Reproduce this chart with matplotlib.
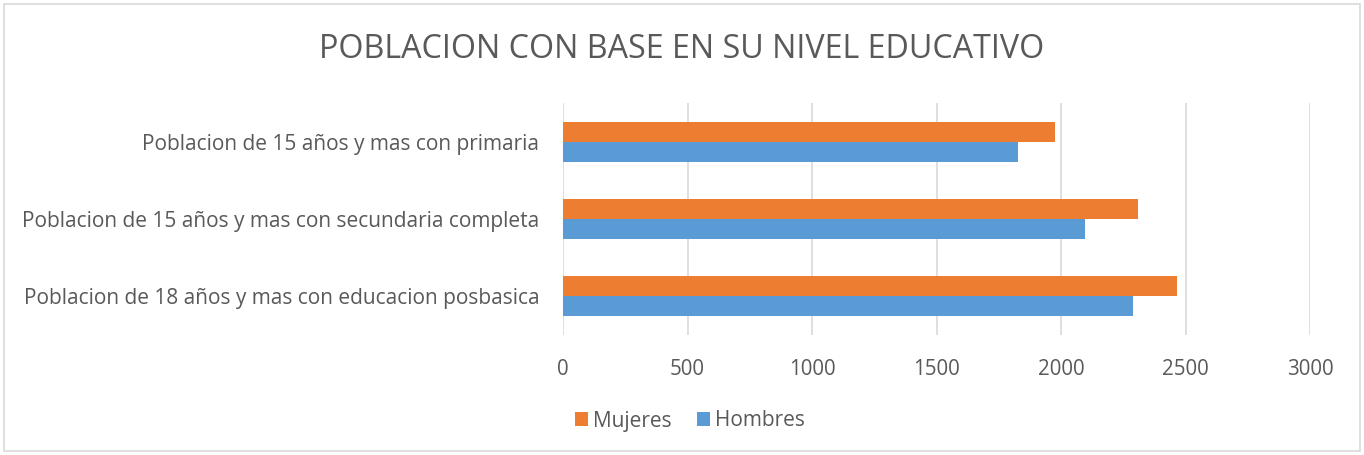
import matplotlib
matplotlib.use("Agg")
import matplotlib.pyplot as plt
import numpy as np
from matplotlib.patches import Rectangle

categories = [
    "Poblacion de 15 años y mas con primaria",
    "Poblacion de 15 años y mas con secundaria completa",
    "Poblacion de 18 años y mas con educacion posbasica",
]
mujeres = [1975, 2310, 2465]
hombres = [1827, 2097, 2288]
xticks = [0, 500, 1000, 1500, 2000, 2500, 3000]

ORANGE = "#ED7D31"
BLUE = "#5B9BD5"
TEXT = "#595959"
FONT = ["Open Sans", "DejaVu Sans"]

fig = plt.figure(figsize=(13.64, 4.55), dpi=100)
fig.patch.set_facecolor("white")
fig.patches.append(Rectangle((4 / 1364, 4 / 455), 1 - 8 / 1364, 1 - 8 / 455,
                             transform=fig.transFigure, fill=False,
                             edgecolor="#D9D9D9", linewidth=1.2))

ax = fig.add_axes([563 / 1364, 1 - 335 / 455, 747 / 1364, 232 / 455])
y = np.arange(len(categories))
h = 0.259
ax.barh(y - h / 2, mujeres, height=h, color=ORANGE, label="Mujeres", zorder=3)
ax.barh(y + h / 2, hombres, height=h, color=BLUE, label="Hombres", zorder=3)
ax.set_ylim(len(categories) - 0.5, -0.5)
ax.set_xlim(0, 3000)
ax.set_xticks(xticks)
ax.set_xticklabels([str(t) for t in xticks], fontsize=14.8, color=TEXT, family=FONT)
ax.set_yticks(y)
ax.set_yticklabels(categories, fontsize=15, color=TEXT, family=FONT)
ax.tick_params(axis="both", length=0)
ax.tick_params(axis="x", pad=17.5)
ax.tick_params(axis="y", pad=17)
ax.grid(axis="x", color="#D9D9D9", linewidth=1.2, zorder=0)
for s in ax.spines.values():
    s.set_visible(False)

fig.text(0.5, 1 - 50 / 455, "POBLACION CON BASE EN SU NIVEL EDUCATIVO",
         ha="center", va="center", fontsize=23.2, color=TEXT, family=FONT)

leg = fig.legend(loc="center", bbox_to_anchor=(690 / 1364, 1 - 421 / 455),
                 ncol=2, frameon=False, handlelength=0.62, handleheight=0.62,
                 handletextpad=0.25, columnspacing=1.2,
                 prop={"family": FONT, "size": 15})
for t in leg.get_texts():
    t.set_color(TEXT)

fig.savefig("out.png", dpi=100)
